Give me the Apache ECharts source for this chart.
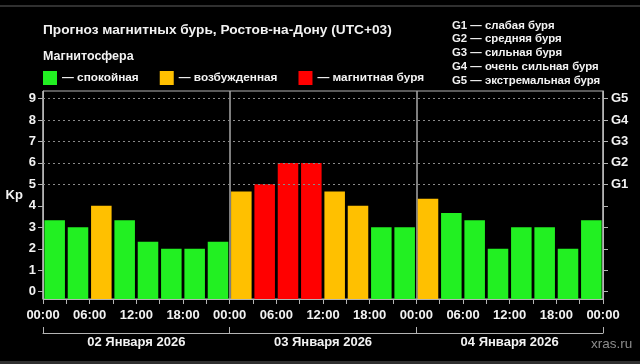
<!DOCTYPE html>
<html>
<head>
<meta charset="utf-8">
<script src="https://cdn.jsdelivr.net/npm/echarts@6/dist/echarts.min.js"></script>
<style>
html,body{margin:0;padding:0;background:#000;}
#c{width:640px;height:364px;}
</style>
</head>
<body>
<div id="c"></div>
<script>
// ---- data ----
const slots = [
  '02 00','02 03','02 06','02 09','02 12','02 15','02 18','02 21',
  '03 00','03 03','03 06','03 09','03 12','03 15','03 18','03 21',
  '04 00','04 03','04 06','04 09','04 12','04 15','04 18','04 21'
];
const kp = [
  3.33, 3.0, 4.0, 3.33, 2.33, 2.0, 2.0, 2.33,
  4.67, 5.0, 6.0, 6.0, 4.67, 4.0, 3.0, 3.0,
  4.33, 3.67, 3.33, 2.0, 3.0, 3.0, 2.0, 3.33
];
// g = спокойная, o = возбужденная, r = магнитная буря
const level = [
  'g','g','o','g','g','g','g','g',
  'o','r','r','r','o','o','g','g',
  'o','g','g','g','g','g','g','g'
];
const days = ['02 Января 2026', '03 Января 2026', '04 Января 2026'];
const timeLabels = ['00:00','06:00','12:00','18:00','00:00','06:00','12:00','18:00','00:00','06:00','12:00','18:00','00:00'];
const kpTicks = [0,1,2,3,4,5,6,7,8,9];
const gValues = [5,6,7,8,9];
const gLabels = ['G1','G2','G3','G4','G5'];
const legendNames = ['— спокойная', '— возбужденная', '— магнитная буря'];
const levelKeys = ['g','o','r'];
const levelColors = ['#22f022', '#ffc000', '#ff0000'];
const gLegend = ['G1 — слабая буря','G2 — средняя буря','G3 — сильная буря','G4 — очень сильная буря','G5 — экстремальная буря'];

const FONT = 'Liberation Sans, Arial, sans-serif';
const AX = '#b4b4b4';
const TXT = '#f2f2f2';

const series = levelKeys.map((k, li) => ({
  name: legendNames[li],
  type: 'bar',
  xAxisIndex: 0,
  yAxisIndex: 0,
  barGap: '-100%',
  barCategoryGap: '12%',
  itemStyle: { color: levelColors[li] },
  data: kp.map((v, i) => level[i] === k ? v : '-'),
  animation: false,
  markLine: li === 0 ? {
    silent: true,
    symbol: ['none','none'],
    label: { show: false },
    lineStyle: { color: '#8a8a8a', type: [2, 3], width: 1 },
    data: gValues.map(v => ({ yAxis: v })),
    animation: false
  } : undefined
}));

const chart = echarts.init(document.getElementById('c'), null, { renderer: 'canvas' });
chart.setOption({
  backgroundColor: '#000',
  animation: false,
  textStyle: { fontFamily: FONT },
  title: [
    { text: 'Прогноз магнитных бурь, Ростов-на-Дону (UTC+03)', left: 38, top: 18,
      textStyle: { color: TXT, fontSize: 13.7, fontWeight: 'bold', fontFamily: FONT } },
    { text: 'Магнитосфера', left: 38, top: 45,
      textStyle: { color: TXT, fontSize: 12.5, fontWeight: 'bold', fontFamily: FONT } },
    { text: gLegend.join('\n'), left: 447, top: 13.5,
      textStyle: { color: TXT, fontSize: 11.4, fontWeight: 'bold', lineHeight: 13.8, fontFamily: FONT } },
    { text: 'xras.ru', left: 586, top: 332,
      textStyle: { color: '#8c8c8c', fontSize: 13.5, fontWeight: 'normal', fontFamily: FONT } }
  ],
  legend: {
    data: legendNames,
    left: 38, top: 66,
    icon: 'rect',
    itemWidth: 14, itemHeight: 14,
    itemGap: 21,
    selectedMode: false,
    textStyle: { color: TXT, fontSize: 11.8, fontWeight: 'bold', fontFamily: FONT }
  },
  graphic: [
    { type: 'rect', left: 0, top: 5, shape: { width: 640, height: 2 }, style: { fill: '#303030' }, silent: true },
    { type: 'rect', left: 0, top: 361, shape: { width: 640, height: 3 }, style: { fill: '#303030' }, silent: true }
  ],
  grid: {
    left: 43, right: 37, top: 91, bottom: 65,
    show: true, borderColor: AX, borderWidth: 1, backgroundColor: 'transparent'
  },
  xAxis: [
    { type: 'category', data: slots, show: false, boundaryGap: true },
    { type: 'value', min: 0, max: 24, interval: 1, position: 'bottom',
      axisLine: { show: true, onZero: false, lineStyle: { color: AX } },
      axisTick: { show: true, length: 5, lineStyle: { color: AX } },
      splitLine: { show: false },
      axisLabel: { color: TXT, fontSize: 13, fontWeight: 'bold', margin: 10, fontFamily: FONT,
        showMinLabel: true, showMaxLabel: true, hideOverlap: false,
        formatter: v => (v % 2 === 0 ? timeLabels[v / 2] : '') } },
    { type: 'category', data: days, position: 'bottom', offset: 34, boundaryGap: true,
      axisLine: { show: true, onZero: false, lineStyle: { color: AX } },
      axisTick: { show: true, inside: true, length: 6, lineStyle: { color: AX } },
      splitLine: { show: true, lineStyle: { color: '#a8a8a8', width: 1.5 } },
      axisLabel: { color: TXT, fontSize: 13, fontWeight: 'bold', margin: 3, fontFamily: FONT } }
  ],
  yAxis: [
    { type: 'value', min: -0.34, max: 9.35, startValue: -0.34, position: 'left',
      name: 'Kp', nameLocation: 'middle', nameRotate: 0, nameGap: 20,
      nameTextStyle: { color: TXT, fontSize: 13, fontWeight: 'bold', fontFamily: FONT },
      axisLine: { show: true, onZero: false, lineStyle: { color: AX } },
      axisTick: { show: true, length: 5, customValues: kpTicks, lineStyle: { color: AX } },
      splitLine: { show: false },
      axisLabel: { color: TXT, fontSize: 13, fontWeight: 'bold', margin: 7, customValues: kpTicks, fontFamily: FONT } },
    { type: 'value', min: -0.34, max: 9.35, position: 'right',
      axisLine: { show: true, onZero: false, lineStyle: { color: AX } },
      axisTick: { show: true, length: 5, customValues: kpTicks, lineStyle: { color: AX } },
      splitLine: { show: false },
      axisLabel: { color: TXT, fontSize: 13, fontWeight: 'bold', margin: 8, customValues: gValues, fontFamily: FONT,
        formatter: v => gLabels[gValues.indexOf(Math.round(v))] || '' } }
  ],
  series: series
});
</script>
</body>
</html>
